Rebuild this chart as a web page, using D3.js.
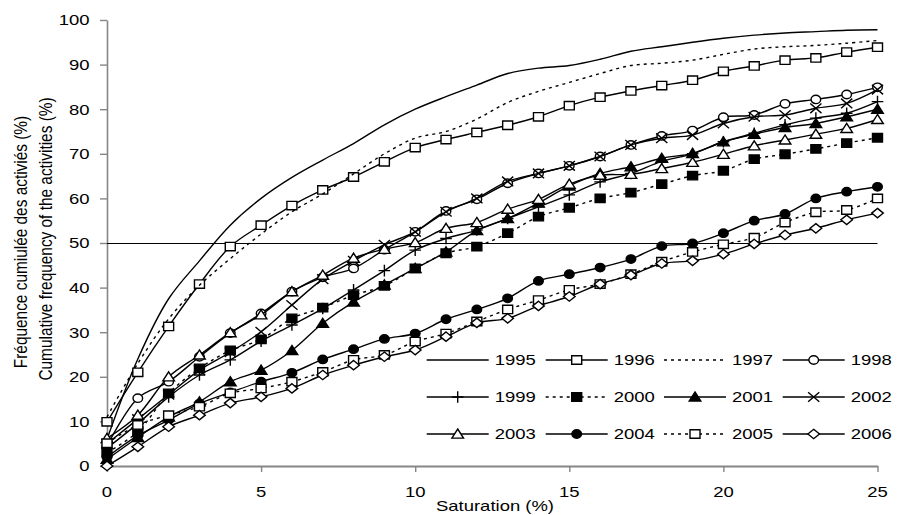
<!DOCTYPE html>
<html>
<head>
<meta charset="utf-8">
<script src="https://cdn.jsdelivr.net/npm/d3@7"></script>
<style>
  html, body { margin: 0; padding: 0; background: #fff; }
  svg { display: block; }
  text { font-family: "Liberation Sans", Arial, sans-serif; fill: #000; }
</style>
</head>
<body>
<svg id="chart" width="897" height="515"></svg>
<script>
// Saturation levels (%) on the horizontal axis
const saturation = d3.range(0, 26);

// Cumulative frequency of the activities (%) per year
const y1995 = [6, 24, 37.5, 46, 54, 60, 64.7, 68.6, 72.3, 76.5, 80, 82.8, 85.4, 88, 89.2, 89.8, 91.2, 93, 94, 95, 95.9, 96.6, 97.1, 97.4, 97.7, 97.8];
const y1996 = [9.9, 21.0, 31.3, 40.8, 49.2, 54.0, 58.4, 61.9, 64.8, 68.2, 71.4, 73.2, 74.8, 76.4, 78.3, 80.8, 82.7, 84.1, 85.3, 86.5, 88.5, 89.7, 91.0, 91.5, 92.8, 93.9];
const y1997 = [11, 23, 33, 40.5, 46.5, 52, 57, 61, 65.5, 70, 73.5, 75, 77.8, 81.5, 84, 86, 88, 89.8, 90.3, 91, 92.3, 93.5, 94, 94.3, 94.8, 95.4];
const y1998 = [4.5, 15.2, 18.9, 24.5, 29.8, 34.2, 39.1, 42.3, 44.3, 48.5, 52.5, 57.2, 59.8, 63.4, 65.6, 67.3, 69.4, 72.0, 74.0, 75.2, 78.2, 78.7, 81.2, 82.2, 83.3, 84.9];
const y1999 = [4, 9.5, 15.5, 20.4, 23.8, 28, 31.6, 35.3, 39.5, 43.8, 48.4, 51, 52.9, 55.5, 58.1, 60.8, 63.7, 65.6, 68.3, 70, 72.7, 74.6, 76.5, 78, 79.1, 81.7];
const y2000 = [3, 7.7, 16.3, 21.9, 25.9, 28.4, 33.1, 35.5, 38.3, 40.4, 44.3, 47.7, 49.2, 52.2, 55.9, 57.9, 60, 61.3, 63.2, 65.1, 66.2, 68.8, 69.9, 71.1, 72.4, 73.6];
const y2001 = [1.5, 6.4, 11, 14.4, 18.9, 21.5, 25.9, 32, 36.8, 40.6, 44.3, 48, 52.8, 55.5, 59, 62.8, 65.6, 67.1, 69, 70.1, 72.7, 74.4, 75.9, 76.8, 78.3, 80];
const y2002 = [5, 10.5, 16, 21.5, 25.5, 30.1, 36.1, 41.9, 46, 49.6, 52.5, 57, 60, 63.8, 65.6, 67.3, 69.4, 72, 73.5, 74.2, 76.8, 78.3, 78.7, 80.2, 81.3, 84.4];
const y2003 = [6.2, 11.4, 20, 24.9, 29.9, 33.9, 39.1, 42.8, 46.6, 48.6, 50.1, 53.3, 54.6, 57.6, 59.8, 63.2, 65.2, 65.4, 66.7, 68.1, 69.9, 71.8, 73.1, 74.4, 75.7, 77.7];
const y2004 = [2, 6.8, 10.3, 14, 16.5, 18.9, 20.9, 23.9, 26.2, 28.5, 29.7, 32.9, 35.1, 37.6, 41.5, 43, 44.5, 46.4, 49.3, 49.9, 52.2, 55, 56.5, 60, 61.5, 62.6];
const y2005 = [5.1, 9.2, 11.4, 13.3, 16.3, 17.4, 18.9, 21.1, 23.8, 24.9, 27.9, 29.7, 32.4, 35.1, 37.2, 39.5, 40.8, 43, 45.8, 48, 49.7, 51.2, 54.6, 56.9, 57.4, 60];
const y2006 = [0, 4.3, 8.8, 11.4, 14.1, 15.5, 17.4, 20.4, 22.6, 24.5, 26, 29, 32.1, 33.1, 35.9, 38, 40.8, 42.8, 45.4, 46, 47.5, 49.8, 51.8, 53.3, 55.2, 56.7];

const years = ["1995", "1996", "1997", "1998", "1999", "2000", "2001", "2002", "2003", "2004", "2005", "2006"];
const yearValues = [y1995, y1996, y1997, y1998, y1999, y2000, y2001, y2002, y2003, y2004, y2005, y2006];
const markers = ["none", "square", "none", "circle", "plus", "square", "triangle", "cross", "triangle", "circle", "square", "diamond"];
const filled = [false, false, false, false, false, true, true, false, false, true, false, false];
const dotted = [false, false, true, false, false, true, false, false, false, false, true, false];

const xTicks = [0, 5, 10, 15, 20, 25];
const yTicks = [0, 10, 20, 30, 40, 50, 60, 70, 80, 90, 100];
const referenceLevel = 50;

const xTitle = "Saturation (%)";
const yTitleLines = ["Fréquence cumiulée des activiés (%)", "Cumulative frequency of the activities (%)"];

// ---- layout ----
const svg = d3.select("#chart");
const plot = { left: 107, right: 877.5, top: 20, bottom: 466 };
const SX = 1.2;          // horizontal text stretch
const FS = 15.4;         // font size
const INK = "#000";
const AXIS = "#868686";
const LW = 1.4;

const x = d3.scaleLinear().domain([0, 25]).range([plot.left, plot.right]);
const y = d3.scaleLinear().domain([0, 100]).range([plot.bottom, plot.top]);

function label(parent, px, py, str, anchor, rotate) {
  return parent.append("text")
    .attr("transform", `translate(${px},${py}) scale(${SX},1)` + (rotate ? ` rotate(${rotate})` : ""))
    .attr("text-anchor", anchor)
    .attr("dy", "0.35em")
    .style("font-size", FS + "px")
    .text(str);
}

// ---- axes ----
const yAxis = svg.append("g")
  .attr("transform", `translate(${plot.left},0)`)
  .call(d3.axisLeft(y).tickValues(yTicks).tickSize(7).tickSizeOuter(0).tickFormat(d3.format("d")));
yAxis.select(".domain").attr("stroke", AXIS).attr("stroke-width", 1.6);
yAxis.selectAll(".tick line").attr("stroke", AXIS).attr("stroke-width", 1.4);
yAxis.selectAll(".tick text").remove();
yTicks.forEach(t => label(svg, 89.5, y(t), String(t), "end"));

const xAxis = svg.append("g")
  .attr("transform", `translate(0,${plot.bottom})`)
  .call(d3.axisBottom(x).tickValues(xTicks).tickSize(6).tickSizeOuter(0).tickFormat(d3.format("d")));
xAxis.select(".domain").attr("stroke", AXIS).attr("stroke-width", 2);
xAxis.selectAll(".tick line").attr("stroke", AXIS).attr("stroke-width", 1.4);
xAxis.selectAll(".tick text").remove();
xTicks.forEach(t => label(svg, x(t), 492, String(t), "middle"));

// axis titles
label(svg, 495, 506, xTitle, "middle");
label(svg, 20.5, 242, yTitleLines[0], "middle", -90);
label(svg, 46, 239, yTitleLines[1], "middle", -90);

// ---- 50 % reference line ----
svg.append("line")
  .attr("x1", x(0)).attr("x2", x(25))
  .attr("y1", Math.round(y(referenceLevel)) + 0.5).attr("y2", Math.round(y(referenceLevel)) + 0.5)
  .attr("stroke", INK).attr("stroke-width", 1);

// ---- marker shapes (slightly wider than tall) ----
function markerPath(kind) {
  switch (kind) {
    case "square":   return "M-5,-4.2H5V4.2H-5Z";
    case "circle":   return "M-4.8,0A4.8,4.2 0 1,0 4.8,0A4.8,4.2 0 1,0 -4.8,0Z";
    case "triangle": return "M0,-5L5.8,4.1H-5.8Z";
    case "diamond":  return "M0,-4.7L5.8,0L0,4.7L-5.8,0Z";
    case "plus":     return "M-5.8,0H5.8M0,-5.8V5.8";
    case "cross":    return "M-5.6,-4.8L5.6,4.8M-5.6,4.8L5.6,-4.8";
  }
  return null;
}
function drawMarker(g, kind, isFilled, cx, cy) {
  if (kind === "none") return;
  const open = kind === "plus" || kind === "cross";
  g.append("path")
    .attr("d", markerPath(kind))
    .attr("transform", `translate(${cx},${cy})`)
    .attr("fill", open ? "none" : (isFilled ? INK : "#fff"))
    .attr("stroke", INK)
    .attr("stroke-width", LW);
}

// ---- series ----
const line = d3.line()
  .x((d, i) => x(saturation[i]))
  .y(d => y(d))
  .curve(d3.curveCatmullRom.alpha(0.5));

const seriesLayer = svg.append("g");
years.forEach((yr, k) => {
  const g = seriesLayer.append("g").attr("class", "series-" + yr);
  g.append("path")
    .attr("d", line(yearValues[k]))
    .attr("fill", "none")
    .attr("stroke", INK)
    .attr("stroke-width", LW)
    .attr("stroke-dasharray", dotted[k] ? "3,4" : null);
  yearValues[k].forEach((v, i) => drawMarker(g, markers[k], filled[k], x(saturation[i]), y(v)));
});

// ---- legend: 3 rows x 4 columns ----
const legend = svg.append("g");
const colX = [426.7, 545.7, 664, 782.7];
const rowY = [360, 397, 434];
years.forEach((yr, k) => {
  const cx = colX[k % 4], cy = rowY[Math.floor(k / 4)];
  legend.append("line")
    .attr("x1", cx).attr("x2", cx + 62).attr("y1", cy).attr("y2", cy)
    .attr("stroke", INK).attr("stroke-width", LW)
    .attr("stroke-dasharray", dotted[k] ? "3,4" : null);
  drawMarker(legend, markers[k], filled[k], cx + 31, cy);
  label(legend, cx + 68, cy, yr, "start");
});
</script>
</body>
</html>
